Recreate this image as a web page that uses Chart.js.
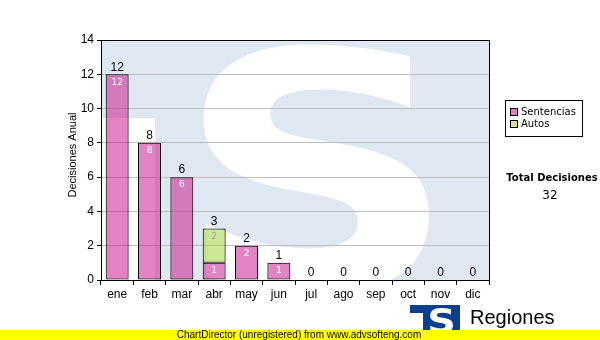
<!DOCTYPE html>
<html>
<head>
<meta charset="utf-8">
<script src="https://cdn.jsdelivr.net/npm/chart.js@4/dist/chart.umd.min.js"></script>
<style>
  html, body { margin: 0; padding: 0; background: #fff; }
</style>
</head>
<body>
<canvas id="chart" width="600" height="340"></canvas>
<script>
'use strict';

// data
const months = ['ene', 'feb', 'mar', 'abr', 'may', 'jun', 'jul', 'ago', 'sep', 'oct', 'nov', 'dic'];
const sentencias = [12, 8, 6, 1, 2, 1, 0, 0, 0, 0, 0, 0];
const autos = [0, 0, 0, 2, 0, 0, 0, 0, 0, 0, 0, 0];
const yMax = 14;
const yStep = 2;
const yTitle = 'Decisiones Anual';
const seriesNames = ['Sentencias', 'Autos'];
const totalTitle = 'Total Decisiones';

const totals = months.map((m, i) => sentencias[i] + autos[i]);
const grandTotal = totals.reduce((a, b) => a + b, 0);

const ARIAL = '"Liberation Sans", Arial, sans-serif';
const TAHOMA = '"DejaVu Sans", Tahoma, sans-serif';

// watermark + extra texts drawn around the chart
const decor = {
    id: 'decor',
    beforeDraw(chart) {
        const { ctx, chartArea: a } = chart;
        ctx.save();
        ctx.beginPath();
        ctx.rect(a.left, a.top, a.right - a.left, a.bottom - a.top);
        ctx.clip();
        // blue block with lower-left corner cut out
        ctx.fillStyle = '#dfe8f1';
        ctx.beginPath();
        ctx.moveTo(a.left, a.top);
        ctx.lineTo(a.right, a.top);
        ctx.lineTo(a.right, a.bottom);
        ctx.lineTo(155, a.bottom);
        ctx.lineTo(155, 118);
        ctx.lineTo(a.left, 118);
        ctx.closePath();
        ctx.fill();
        // big white S
        drawFitted(ctx, 'S', 203, 42, 430, 292, '#fff', TAHOMA);
        ctx.restore();
    },
    afterDraw(chart) {
        const { ctx, chartArea: a } = chart;
        const x = chart.scales.x;
        const y = chart.scales.y;
        ctx.save();

        // top and right border of the plot
        ctx.strokeStyle = '#000';
        ctx.lineWidth = 1;
        ctx.beginPath();
        ctx.moveTo(a.left, a.top + 0.5);
        ctx.lineTo(a.right + 0.5, a.top + 0.5);
        ctx.lineTo(a.right + 0.5, a.bottom);
        ctx.stroke();

        // value labels
        ctx.textAlign = 'center';
        ctx.textBaseline = 'middle';
        months.forEach((m, i) => {
            const cx = x.getPixelForValue(i);
            let base = 0;
            [sentencias, autos].forEach(arr => {
                const v = arr[i];
                if (v > 0) {
                    ctx.font = '9px ' + TAHOMA;
                    ctx.fillStyle = arr === autos ? '#a0a0a0' : '#fff';
                    ctx.fillText(String(v), cx, y.getPixelForValue(base + v) + 8);
                }
                base += v;
            });
            ctx.font = '12px ' + ARIAL;
            ctx.fillStyle = '#000';
            ctx.fillText(String(totals[i]), cx, y.getPixelForValue(totals[i]) - 7);
        });

        // y axis title
        ctx.save();
        ctx.translate(73, 155);
        ctx.rotate(-Math.PI / 2);
        ctx.font = '11px ' + ARIAL;
        ctx.fillStyle = '#000';
        ctx.fillText(yTitle, 0, 0);
        ctx.restore();

        // legend
        ctx.strokeStyle = '#000';
        ctx.strokeRect(505.5, 100.5, 77, 36);
        const legendColors = ['#e080c0', '#cde490'];
        seriesNames.forEach((name, i) => {
            const ly = 112 + i * 12;
            ctx.fillStyle = legendColors[i];
            ctx.fillRect(510, ly - 4, 8, 8);
            ctx.strokeRect(510.5, ly - 3.5, 7, 7);
            ctx.fillStyle = '#000';
            ctx.font = '10px ' + TAHOMA;
            ctx.textAlign = 'left';
            ctx.fillText(name, 521, ly);
        });

        // total
        ctx.textAlign = 'center';
        ctx.font = 'bold 10px ' + TAHOMA;
        ctx.fillText(totalTitle, 552, 178);
        ctx.font = '12px ' + TAHOMA;
        ctx.fillText(String(grandTotal), 550, 196);

        // logo
        ctx.fillStyle = '#0d3f8f';
        ctx.fillRect(410, 305, 50, 8);
        ctx.fillRect(423, 305, 37, 25);
        drawFitted(ctx, 'S', 430, 307, 453, 333, '#fff', TAHOMA);
        ctx.fillStyle = '#000';
        ctx.textAlign = 'left';
        ctx.font = '20px ' + ARIAL;
        ctx.textBaseline = 'alphabetic';
        ctx.fillText('Regiones', 470, 324);
        ctx.font = '11px ' + ARIAL;
        ctx.fillText('Tribunal Supremo de Justicia', 469, 338);

        // footer
        ctx.fillStyle = '#ffff00';
        ctx.fillRect(0, 330, 600, 10);
        ctx.fillStyle = '#000';
        ctx.textAlign = 'center';
        ctx.textBaseline = 'middle';
        ctx.font = '10px ' + ARIAL;
        ctx.fillText('ChartDirector (unregistered) from www.advsofteng.com', 299, 335);

        ctx.restore();
    }
};

function drawFitted(ctx, txt, x0, y0, x1, y1, color, family) {
    ctx.save();
    ctx.font = 'bold 100px ' + family;
    ctx.textAlign = 'left';
    ctx.textBaseline = 'alphabetic';
    const m = ctx.measureText(txt);
    const w = m.actualBoundingBoxLeft + m.actualBoundingBoxRight;
    const h = m.actualBoundingBoxAscent + m.actualBoundingBoxDescent;
    ctx.translate(x0, y0);
    ctx.scale((x1 - x0) / w, (y1 - y0) / h);
    ctx.fillStyle = color;
    ctx.fillText(txt, m.actualBoundingBoxLeft, m.actualBoundingBoxAscent);
    ctx.restore();
}

const border = c => (c.raw > 0 ? 1 : 0);

new Chart(document.getElementById('chart'), {
    type: 'bar',
    data: {
        labels: months,
        datasets: [{
            label: seriesNames[0],
            data: sentencias,
            backgroundColor: 'rgba(200, 20, 140, 0.52)',
            borderColor: '#000',
            borderWidth: border,
            borderSkipped: false
        }, {
            label: seriesNames[1],
            data: autos,
            backgroundColor: 'rgba(160, 210, 60, 0.55)',
            borderColor: '#000',
            borderWidth: border,
            borderSkipped: false
        }]
    },
    options: {
        responsive: false,
        animation: false,
        layout: { padding: { left: 61, right: 111, top: 40, bottom: 30 } },
        datasets: { bar: { categoryPercentage: 1, barPercentage: 0.71 } },
        plugins: {
            legend: { display: false },
            tooltip: { enabled: false }
        },
        scales: {
            x: {
                stacked: true,
                grid: { drawOnChartArea: false, tickLength: 5, color: '#000' },
                border: { color: '#000' },
                ticks: { color: '#000', font: { family: ARIAL, size: 12 }, padding: 2 },
                afterFit: s => { s.height = 30; }
            },
            y: {
                stacked: true,
                min: 0,
                max: yMax,
                ticks: { stepSize: yStep, color: '#000', font: { family: ARIAL, size: 12 }, padding: 3 },
                grid: { color: '#bdbdbd', tickColor: '#000', tickLength: 4 },
                border: { color: '#000' },
                afterFit: s => { s.width = 40; }
            }
        }
    },
    plugins: [decor]
});
</script>
</body>
</html>
